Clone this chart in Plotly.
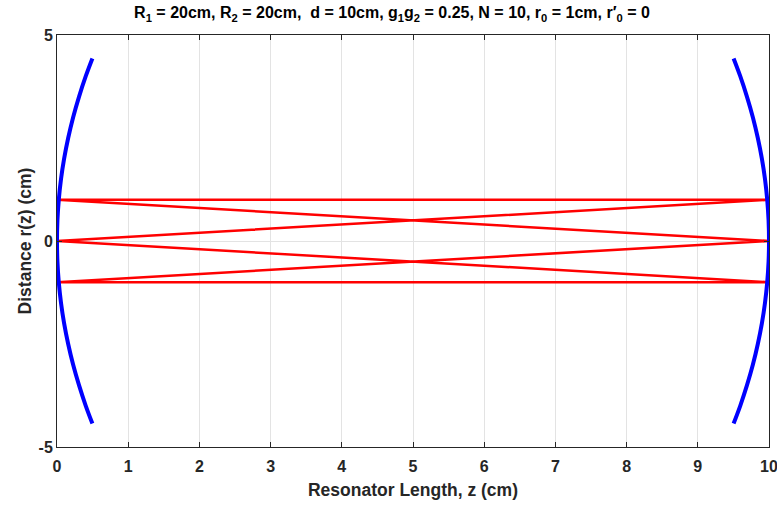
import plotly.graph_objects as go

# Ray path (one full cycle of the bouncing ray), z in cm, r in cm
ray_z = [0, 10, 0, 10, 0, 10, 0]
ray_r = [1, 1, 0, -1, -1, 0, 1]

# Mirror surface samples (R = 20 cm), sag z vs height r
mirror_r = [-4.43, -4.0, -3.5, -3.0, -2.5, -2.0, -1.5, -1.0, -0.5, 0.0,
            0.5, 1.0, 1.5, 2.0, 2.5, 3.0, 3.5, 4.0, 4.43]
mirror_sag = [0.497, 0.404, 0.309, 0.226, 0.157, 0.100, 0.056, 0.025, 0.006, 0.0,
              0.006, 0.025, 0.056, 0.100, 0.157, 0.226, 0.309, 0.404, 0.497]
d = 10

x_ticks = [0, 1, 2, 3, 4, 5, 6, 7, 8, 9, 10]
x_ticktext = ["0", "1", "2", "3", "4", "5", "6", "7", "8", "9", ""]
x_last_label = "10"
y_ticks = [-5, 0, 5]
y_ticktext = ["-5", "0", "5"]

fig = go.Figure()
fig.add_trace(go.Scatter(x=ray_z, y=ray_r, mode="lines",
                         line=dict(color="#ff0000", width=2.5), showlegend=False))
fig.add_trace(go.Scatter(x=mirror_sag, y=mirror_r, mode="lines",
                         line=dict(color="#0000ff", width=4, shape="spline"), showlegend=False))
fig.add_trace(go.Scatter(x=[d - s for s in mirror_sag], y=mirror_r, mode="lines",
                         line=dict(color="#0000ff", width=4, shape="spline"), showlegend=False))

font_family = "Liberation Sans, Arial, sans-serif"
tick_font = dict(family=font_family, size=16, color="#262626", weight="bold")
axis_common = dict(showline=True, linecolor="#262626", linewidth=1, mirror="ticks",
                   ticks="inside", ticklen=5, tickcolor="#262626", automargin=False,
                   showgrid=True, gridcolor="#e3e3e3", gridwidth=1, zeroline=False,
                   tickfont=tick_font)
title_font = dict(family=font_family, size=17.5, color="#262626", weight="bold")

fig.update_layout(
    width=777, height=505,
    margin=dict(l=57, r=8, t=35, b=58),
    paper_bgcolor="white", plot_bgcolor="white",
    title=dict(text="R<sub>1</sub> = 20cm, R<sub>2</sub> = 20cm,  d = 10cm, g<sub>1</sub>g<sub>2</sub> = 0.25, N = 10, r<sub>0</sub> = 1cm, r\u2032<sub>0</sub> = 0",
               x=392 / 777, xanchor="center", y=0.986, yanchor="top",
               font=dict(family=font_family, size=16, color="black", weight="bold")),
    xaxis=dict(range=[0, 10], tickvals=x_ticks, ticktext=x_ticktext, ticklabelstandoff=5,
               title=dict(text="Resonator Length, z (cm)", standoff=9, font=title_font),
               **axis_common),
    yaxis=dict(range=[-5, 5], tickvals=y_ticks, ticktext=y_ticktext,
               title=dict(text="Distance r(z) (cm)", standoff=2, font=title_font),
               **axis_common),
    annotations=[dict(text=x_last_label, x=x_ticks[-1], xref="x", y=0, yref="paper",
                      xanchor="center", yanchor="top", yshift=-9, showarrow=False,
                      font=tick_font)],
)

fig.write_html("out.html")
